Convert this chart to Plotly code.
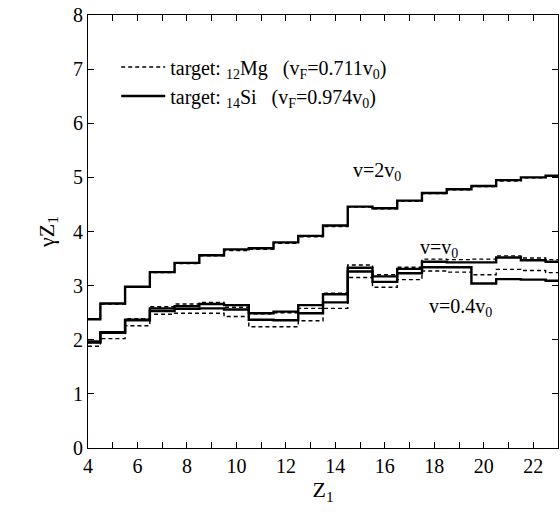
import plotly.graph_objects as go

Z1 = list(range(4, 24))

si_2v0 = [2.38, 2.67, 2.98, 3.25, 3.42, 3.56, 3.67, 3.69, 3.80, 3.92, 4.11, 4.46, 4.43, 4.57, 4.71, 4.78, 4.84, 4.95, 5.00, 5.03]
mg_2v0 = [2.38, 2.66, 2.98, 3.24, 3.41, 3.55, 3.65, 3.67, 3.78, 3.90, 4.09, 4.45, 4.42, 4.56, 4.70, 4.77, 4.83, 4.93, 4.99, 5.02]
si_v0 = [1.97, 2.14, 2.37, 2.58, 2.62, 2.66, 2.64, 2.49, 2.52, 2.64, 2.84, 3.33, 3.17, 3.31, 3.44, 3.43, 3.43, 3.52, 3.47, 3.44]
mg_v0 = [1.95, 2.15, 2.39, 2.61, 2.66, 2.69, 2.60, 2.48, 2.50, 2.58, 2.86, 3.38, 3.20, 3.34, 3.49, 3.48, 3.49, 3.55, 3.51, 3.48]
si_04 = [1.95, 2.13, 2.36, 2.53, 2.57, 2.58, 2.56, 2.37, 2.36, 2.49, 2.69, 3.26, 3.07, 3.23, 3.34, 3.34, 3.04, 3.12, 3.11, 3.09]
mg_04 = [1.88, 2.02, 2.26, 2.47, 2.49, 2.49, 2.43, 2.24, 2.24, 2.35, 2.58, 3.15, 2.97, 3.11, 3.27, 3.25, 3.20, 3.30, 3.28, 3.24]

x_ticks = list(range(4, 24))
x_tick_text = [str(v) if v % 2 == 0 and v <= 22 else "" for v in x_ticks]
y_ticks = list(range(0, 9))

label_mg = "target: <sub>12</sub>Mg   (v<sub>F</sub>=0.711v<sub>0</sub>)"
label_si = "target: <sub>14</sub>Si   (v<sub>F</sub>=0.974v<sub>0</sub>)"

FONT = "Liberation Serif"

fig = go.Figure()
solid = dict(color="black", width=2.4, shape="hvh")
dashed = dict(color="black", width=1.4, shape="hvh", dash="4px,3px")

for i, ys in enumerate([si_2v0, si_v0, si_04]):
    fig.add_trace(go.Scatter(x=Z1, y=ys, mode="lines", line=solid, name=label_si,
                             legendgroup="si", showlegend=(i == 0)))
for i, ys in enumerate([mg_2v0, mg_v0, mg_04]):
    fig.add_trace(go.Scatter(x=Z1, y=ys, mode="lines", line=dashed, name=label_mg,
                             legendgroup="mg", showlegend=(i == 0)))

fig.add_annotation(x=15.7, y=5.1, text="v=2v<sub>0</sub>", showarrow=False,
                   xanchor="center", yanchor="middle", font=dict(family=FONT, size=20, color="black"))
fig.add_annotation(x=18.2, y=3.68, text="v=v<sub>0</sub>", showarrow=False,
                   xanchor="center", yanchor="middle", font=dict(family=FONT, size=20, color="black"))
fig.add_annotation(x=19.05, y=2.6, text="v=0.4v<sub>0</sub>", showarrow=False,
                   xanchor="center", yanchor="middle", font=dict(family=FONT, size=20, color="black"))

axis_common = dict(showgrid=False, zeroline=False, showline=True, linecolor="black", linewidth=1,
                   mirror="ticks", ticks="inside", ticklen=6, tickcolor="black", tickwidth=1,
                   automargin=False,
                   tickfont=dict(family=FONT, size=20, color="black"))

fig.update_xaxes(range=[4, 23], tickmode="array", tickvals=x_ticks, ticktext=x_tick_text,
                 title=dict(text="Z<sub>1</sub>", font=dict(family=FONT, size=22, color="black"), standoff=2),
                 **axis_common)
fig.update_yaxes(range=[0, 8], tickmode="array", tickvals=y_ticks,
                 title=dict(text="γZ<sub>1</sub>", font=dict(family=FONT, size=22, color="black"), standoff=12),
                 **axis_common)

fig.update_layout(
    width=560, height=512,
    margin=dict(l=88, r=2, t=15, b=64),
    plot_bgcolor="white", paper_bgcolor="white",
    font=dict(family=FONT, size=20, color="black"),
    showlegend=True,
    legend=dict(x=0.06, y=0.925, xanchor="left", yanchor="top", traceorder="reversed",
                bgcolor="rgba(0,0,0,0)", borderwidth=0, itemwidth=44,
                font=dict(family=FONT, size=20, color="black"), tracegroupgap=0),
)

fig.write_html("out.html", config={"displayModeBar": False},
               post_script="document.body.style.margin='0';document.body.style.overflow='hidden';")
